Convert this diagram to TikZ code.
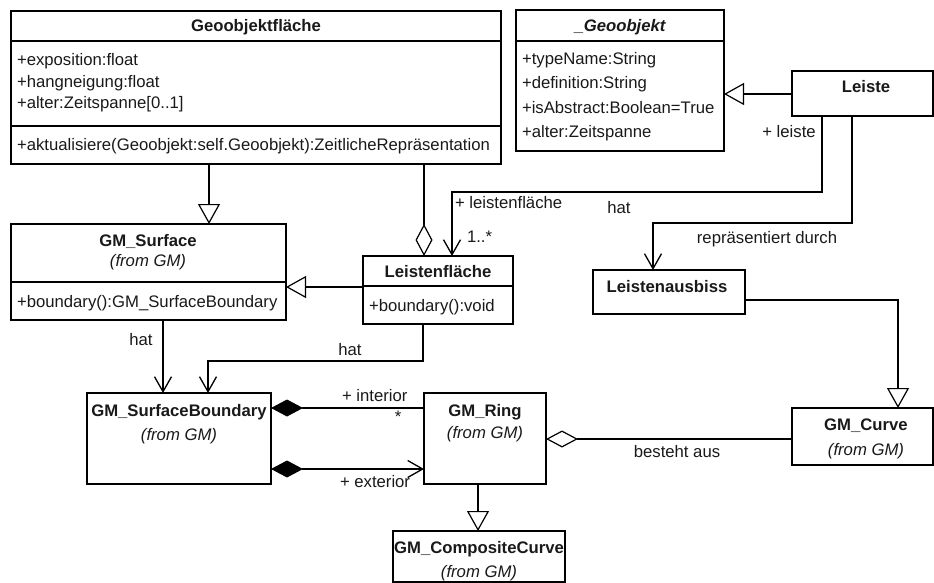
\documentclass[tikz,border=0pt]{standalone}
\usepackage{fontspec}
\setmainfont{Liberation Sans}
\usetikzlibrary{arrows.meta}
\begin{document}
\begin{tikzpicture}[x=1pt,y=-1pt,
  every node/.style={inner sep=0pt, outer sep=0pt, font=\fontsize{16.7}{20}\selectfont, text=black!90},
  cls/.style n args={2}{draw, line width=1.3pt, rectangle, anchor=north west,
    minimum width=#1, minimum height=#2},
  title/.style={anchor=base, font=\fontsize{16.7}{20}\selectfont\bfseries},
  pkg/.style={anchor=base, font=\fontsize{16.7}{20}\selectfont\itshape},
  member/.style={anchor=base west},
  lbl/.style={anchor=base},
  sepline/.style={line width=1.7pt},
  conn/.style={line width=1.4pt},
  gen/.style={conn, -{Triangle[open, length=20pt, width=22pt, line width=1.2pt]}},
  nav/.style={conn, -{Straight Barb[length=15pt, width=17pt, line width=1.3pt]}},
  agg/.style={conn, -{Diamond[open, length=32pt, width=17pt, line width=1.2pt]}},
]
\useasboundingbox (0,0) rectangle (934,583);

% ---------------- class boxes ----------------
\node[cls={490pt}{153pt}] (GF) at (11,11) {};
\node[cls={208pt}{141pt}] (GO) at (516,10) {};
\node[cls={141pt}{45pt}]  (Leiste) at (792,71) {};
\node[cls={152pt}{44pt}]  (LA) at (593,270) {};
\node[cls={141pt}{57pt}]  (Curve) at (792,408) {};
\node[cls={122pt}{91pt}]  (Ring) at (424,393) {};
\node[cls={184pt}{91pt}]  (SB) at (87,393) {};
\node[cls={172pt}{51pt}]  (CC) at (393,531) {};
\node[cls={275pt}{96pt}]  (GS) at (11,224) {};
\node[cls={150pt}{68pt}]  (LF) at (363,256) {};

% compartment separators
\draw[sepline] (GF.west |- 0,41) -- (GF.east |- 0,41);
\draw[sepline] (GF.west |- 0,126) -- (GF.east |- 0,126);
\draw[sepline] (GO.west |- 0,41) -- (GO.east |- 0,41);
\draw[sepline] (GS.west |- 0,282) -- (GS.east |- 0,282);
\draw[sepline] (LF.west |- 0,286) -- (LF.east |- 0,286);

% ---------------- class texts ----------------
\node[title] (GFt) at (256,32) {Geoobjektfläche};
\node[member] (GFa1) at (17,66) {+exposition:float};
\node[member] (GFa2) at (17,87.5) {+hangneigung:float};
\node[member] (GFa3) at (17,109) {+alter:Zeitspanne[0..1]};
\node[member] (GFm1) at (17,150) {+aktualisiere(Geoobjekt:self.Geoobjekt):ZeitlicheRepräsentation};

\node[title, font=\fontsize{16.7}{20}\selectfont\bfseries\itshape] (GOt) at (620,32) {\_Geoobjekt};
\node[member] (GOa1) at (522,65) {+typeName:String};
\node[member] (GOa2) at (522,89) {+definition:String};
\node[member] (GOa3) at (522,114) {+isAbstract:Boolean=True};
\node[member] (GOa4) at (522,138) {+alter:Zeitspanne};

\node[title] (Leistet) at (866,93) {Leiste};
\node[title] (LAt) at (667,292) {Leistenausbiss};

\node[title] (Curvet) at (866,430) {GM\_Curve};
\node[pkg] (Curvep) at (866,455) {(from GM)};

\node[title] (Ringt) at (485,416) {GM\_Ring};
\node[pkg] (Ringp) at (485,438) {(from GM)};

\node[title] (SBt) at (179,416) {GM\_SurfaceBoundary};
\node[pkg] (SBp) at (179,440) {(from GM)};

\node[title] (CCt) at (479,553) {GM\_CompositeCurve};
\node[pkg] (CCp) at (479,577) {(from GM)};

\node[title] (GSt) at (148,246) {GM\_Surface};
\node[pkg] (GSp) at (148,266) {(from GM)};
\node[member] (GSm1) at (17,307) {+boundary():GM\_SurfaceBoundary};

\node[title] (LFt) at (438,277) {Leistenfläche};
\node[member] (LFm1) at (369,311) {+boundary():void};

% ---------------- connectors ----------------
% generalizations
\draw[gen] (GF.south -| 209,0) -- (GS.north -| 209,0);
\draw[gen] (LF.west |- 0,287) -- (GS.east |- 0,287);
\draw[gen] (Leiste.west |- 0,94) -- (GO.east |- 0,94);
\draw[gen] (LA.east |- 0,300) -| (Curve.north -| 898,0);
\draw[gen] (Ring.south -| 478,0) -- (CC.north -| 478,0);

% aggregations
\draw[agg] (GF.south -| 424,0) -- (LF.north -| 424,0);
\draw[agg] (Curve.west |- 0,439) -- (Ring.east |- 0,439);

% navigable associations
\draw[nav] (Leiste.south -| 822,0) -- ++(0,76) -| (LF.north -| 452,0);
\draw[nav] (Leiste.south -| 852,0) -- ++(0,107) -| (LA.north -| 653,0);
\draw[nav] (GS.south -| 163,0) -- (SB.north -| 163,0);
\draw[nav] (LF.south -| 423,0) -- ++(0,37) -| (SB.north -| 208,0);

% compositions
\draw[conn, {Diamond[length=32pt, width=17pt]}-] (SB.east |- 0,408) -- (Ring.west |- 0,408);
\draw[conn, {Diamond[length=32pt, width=17pt]}-{Straight Barb[length=15pt, width=17pt, line width=1.3pt]}]
  (SB.east |- 0,469) -- (Ring.west |- 0,469);

% ---------------- association labels ----------------
\node[lbl] (l1) at (789,138) {+ leiste};
\node[member] (l2) at (455,208) {+ leistenfläche};
\node[member] (l3) at (467,242) {1..*};
\node[lbl] (l4) at (619,213) {hat};
\node[lbl] (l5) at (767,243) {repräsentiert durch};
\node[lbl] (l6) at (141,345) {hat};
\node[lbl] (l7) at (350,355) {hat};
\node[member] (l8) at (342,401) {+ interior};
\node[anchor=center] (l9) at (398,417) {*};
\node[member] (l10) at (340,487) {+ exterior};
\node[lbl] (l11) at (677,457) {besteht aus};
\end{tikzpicture}
\end{document}
